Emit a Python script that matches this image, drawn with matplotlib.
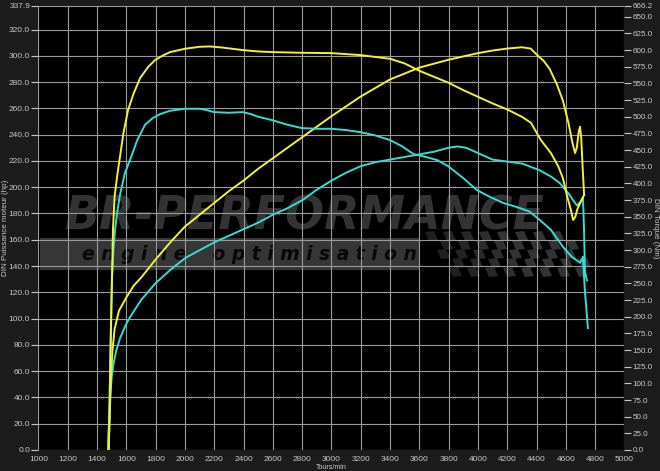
import matplotlib
matplotlib.use("Agg")
import matplotlib.pyplot as plt
import matplotlib.transforms as mtransforms
from matplotlib.patches import Rectangle, Polygon
import numpy as np

plt.rcParams['font.family'] = ['Liberation Sans', 'DejaVu Sans']

# ---------------- data ----------------
tuned_power_rpm = [1480, 1488, 1495, 1505, 1520, 1550, 1600, 1650, 1700, 1800, 1900, 2000, 2100, 2200,
                   2300, 2400, 2500, 2600, 2800, 3000, 3200, 3400, 3600, 3800, 4000, 4100, 4200, 4300,
                   4360, 4410, 4450, 4490, 4540, 4580, 4620, 4645, 4663, 4675, 4688, 4697, 4705, 4715, 4725]
tuned_power_hp = [0, 30, 55, 75, 92, 106, 116, 125, 131, 145, 158, 170, 179, 188,
                  197, 205, 214, 222, 238, 254, 269, 282, 291, 297, 302, 304, 305.5, 306.5,
                  305.5, 300, 296, 290, 278, 266, 248, 234, 226, 230, 242, 246, 238, 215, 194]

tuned_torque_rpm = [1480, 1487, 1495, 1502, 1509, 1520, 1540, 1557, 1580, 1612, 1650, 1694, 1750, 1796,
                    1850, 1898, 2000, 2100, 2171, 2250, 2397, 2500, 2600, 2800, 3000, 3200, 3400, 3500,
                    3600, 3700, 3800, 3900, 4000, 4100, 4200, 4300, 4362, 4430, 4500, 4550, 4580, 4610,
                    4635, 4650, 4665, 4680, 4697, 4710, 4725]
tuned_torque_nm = [0, 80, 180, 255, 330, 380, 415, 440, 475, 510, 535, 558, 575, 585,
                   592, 597, 602, 605, 605.5, 604, 600, 598, 597, 596, 595.5, 592.5, 587, 580,
                   569, 560, 551, 540, 530, 520, 511, 500, 491, 465, 445, 425, 408, 380,
                   360, 345, 350, 362, 370, 376, 383]

stock_power_rpm = [1475, 1482, 1490, 1500, 1510, 1530, 1557, 1600, 1625, 1700, 1800, 1900, 2000, 2100,
                   2200, 2300, 2400, 2500, 2600, 2700, 2800, 2900, 3000, 3100, 3200, 3300, 3400, 3500,
                   3600, 3700, 3800, 3860, 3920, 4000, 4100, 4200, 4300, 4420, 4500, 4560, 4620, 4650,
                   4677, 4700, 4717, 4724, 4731, 4745]
stock_power_hp = [0, 20, 40, 55, 64, 75, 85, 96, 101, 114, 127, 137, 146, 152,
                  158, 163, 168, 173, 179, 184, 190, 198, 205, 211, 216, 219, 221, 223,
                  225, 227, 230, 231, 230, 226, 221, 219.5, 218, 213, 208, 203, 195, 190,
                  186, 189, 192, 170, 135, 129]

stock_torque_rpm = [1475, 1485, 1492, 1502, 1512, 1523, 1540, 1557, 1590, 1625, 1675, 1728, 1780, 1830,
                    1900, 2000, 2102, 2150, 2198, 2300, 2396, 2450, 2500, 2594, 2700, 2799, 2900, 2998,
                    3100, 3196, 3300, 3400, 3480, 3561, 3640, 3721, 3796, 3900, 3993, 4080, 4170, 4287,
                    4350, 4423, 4500, 4580, 4640, 4697, 4710, 4717, 4730, 4751]
stock_torque_nm = [0, 60, 150, 255, 300, 330, 360, 383, 415, 435, 465, 488, 498, 504,
                   509, 512, 512, 510, 507, 506, 507, 504, 500, 495, 488, 483, 482, 482,
                   480, 477, 472, 465, 456, 444, 440, 435, 426, 408, 390, 380, 371, 363,
                   358, 345, 330, 305, 290, 281, 286, 290, 240, 183]

hp_ticks = [0, 20, 40, 60, 80, 100, 120, 140, 160, 180, 200, 220, 240, 260, 280, 300, 320, 337.9]
nm_ticks = [0, 25, 50, 75, 100, 125, 150, 175, 200, 225, 250, 275, 300, 325, 350, 375, 400,
            425, 450, 475, 500, 525, 550, 575, 600, 625, 650, 666.2]
rpm_ticks = list(range(1000, 5001, 200))

# ---------------- figure ----------------
W, H = 660, 471
fig = plt.figure(figsize=(W / 100, H / 100), dpi=100, facecolor='#1c1c1c')
ax = fig.add_axes([38.4 / W, (H - 450) / H, (624.4 - 38.4) / W, 444 / H])
ax.set_facecolor('black')
ax2 = ax.twinx()

ax.set_xlim(1000, 5000)
ax.set_ylim(0, 337.9)
ax2.set_ylim(0, 666.2)

for a in (ax, ax2):
    for s in a.spines.values():
        s.set_visible(False)

lab_col = '#c8c8c8'
ax.set_xticks(rpm_ticks)
ax.set_xticklabels([str(t) for t in rpm_ticks])
ax.set_yticks(hp_ticks)
ax.set_yticklabels(['%.1f' % t for t in hp_ticks])
ax2.set_yticks(nm_ticks)
ax2.set_yticklabels(['%.1f' % t for t in nm_ticks])

ax.tick_params(axis='x', length=0, pad=4, labelsize=6.0, colors=lab_col)
ax.tick_params(axis='y', length=5, width=0.8, pad=1, labelsize=6.0, colors=lab_col)
ax2.tick_params(axis='y', length=5, width=0.8, pad=1, labelsize=5.8, colors=lab_col)

ax.grid(True, color='#9a9a9a', linewidth=0.8, zorder=1.5)

pix = mtransforms.Affine2D().scale(1 / W, -1 / H).translate(0, 1) + fig.transFigure

# axis titles placed explicitly so they stay inside the canvas
fig.text(6, 228, 'DIN Puissance moteur (hp)', transform=pix, color=lab_col, fontsize=5.8,
         rotation=90, ha='center', va='center')
fig.text(656, 228, 'DIN Torque (Nm)', transform=pix, color=lab_col, fontsize=5.8,
         rotation=270, ha='center', va='center')
fig.text(331, 471, 'Tours/min', transform=pix, color=lab_col, fontsize=5.0,
         ha='center', va='bottom')

# ---------------- watermark (pixel coords) ----------------
wm = '#333333'
ax.add_patch(Rectangle((40, 238), 380, 32, transform=pix, facecolor='#363636', edgecolor='none', zorder=1))
ax.text(64, 217, 'BR-PERFORMANCE', transform=pix, fontsize=33, fontweight='heavy', fontstyle='italic',
        color=wm, va='center', ha='left', family='DejaVu Sans', zorder=1)
ax.text(82, 255, 'e n g i n e    o p t i m i s a t i o n', transform=pix, fontsize=13.5,
        fontweight='bold', fontstyle='italic', color='#080808', va='center', ha='left',
        family='DejaVu Sans', zorder=1.1)
# checkered flag
sq = 9
for r in range(5):
    for c in range(16):
        if (r + c) % 2:
            continue
        x0 = 425 + c * sq + r * 6
        y0 = 232 + r * sq
        skew = 4
        shade = 0.12 + 0.08 * min(c, 8) / 8
        poly = Polygon([(x0, y0), (x0 + sq, y0 - 1), (x0 + sq + skew, y0 + sq - 1), (x0 + skew, y0 + sq)],
                       closed=True, transform=pix, facecolor=(shade, shade, shade), edgecolor='none',
                       zorder=1)
        ax.add_patch(poly)

# ---------------- curves ----------------
yellow = '#f2f03a'
cyan = '#35dcd4'
ax.plot(stock_power_rpm, stock_power_hp, color=cyan, lw=1.4, zorder=2)
ax.plot(tuned_power_rpm, tuned_power_hp, color=yellow, lw=1.4, zorder=2.1)
ax2.plot(stock_torque_rpm, stock_torque_nm, color=cyan, lw=1.4, zorder=2)
ax2.plot(tuned_torque_rpm, tuned_torque_nm, color=yellow, lw=1.4, zorder=2.1)

fig.savefig('out.png', dpi=100, facecolor=fig.get_facecolor())
